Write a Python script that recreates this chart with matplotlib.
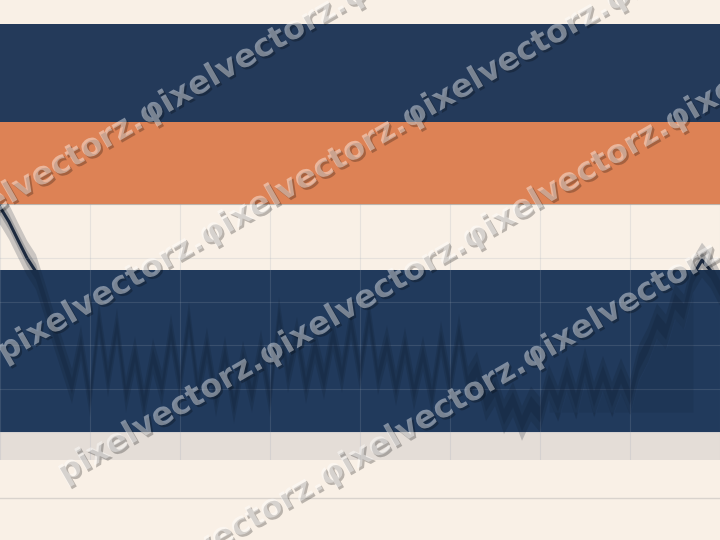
import numpy as np
import matplotlib.pyplot as plt
import matplotlib.patheffects as pe
from matplotlib.patches import Rectangle
from matplotlib.lines import Line2D

# data
days = list(range(0, 161, 2))
close = [151.7, 148.3, 144.1, 140.0, 136.8, 130.3, 123.4, 117.0, 110.5, 120.5,
         107.5, 126.0, 112.0, 124.5, 108.5, 118.0, 106.5, 117.5, 110.0, 123.0,
         111.0, 126.0, 109.5, 120.0, 107.5, 118.0, 106.0, 117.0, 108.5, 119.5,
         107.5, 127.0, 113.0, 122.5, 110.5, 120.0, 111.5, 122.5, 113.0, 125.5,
         113.5, 127.0, 112.5, 120.5, 110.0, 120.0, 109.0, 118.0, 108.0, 121.5,
         110.5, 123.0, 111.0, 114.5, 106.5, 110.0, 103.5, 107.5, 102.0, 106.5,
         104.0, 111.5, 106.5, 113.5, 107.0, 115.5, 107.5, 113.5, 107.5, 113.0,
         108.0, 116.0, 120.0, 125.5, 123.0, 130.0, 127.6, 136.0, 139.5, 137.0,
         133.0]
range_low, range_high = 100, 137.2
y_ticks = [100, 110, 120, 130, 140]
x_ticks = [0, 20, 40, 60, 80, 100, 120, 140, 160]
shade_from, shade_to, shade_floor = 122, 154, 104.6

cream = '#f9f0e6'
navy = '#243a5a'
orange = '#dd8255'

fig = plt.figure(figsize=(7.2, 5.4), dpi=100, facecolor=cream)
W, H = 720, 540

# header bars
fig.add_artist(Rectangle((0, 1 - 122 / H), 1, 98 / H, transform=fig.transFigure,
                         color=navy, lw=0))
fig.add_artist(Rectangle((0, 1 - 204 / H), 1, 82 / H, transform=fig.transFigure,
                         color=orange, lw=0))
fig.add_artist(Line2D([0, 1], [1 - 498 / H] * 2, transform=fig.transFigure,
                      color='#d9d3cd', lw=1))

ax = fig.add_axes([0, 80 / H, 1, 256 / H])
ax.set_facecolor(cream)
ax.set_xlim(0, 160)
ax.set_ylim(93.6, 152.4)
ax.set_xticks(x_ticks)
ax.set_yticks(y_ticks)
ax.tick_params(length=0, labelleft=False, labelbottom=False)
for s in ['left', 'right', 'bottom']:
    ax.spines[s].set_visible(False)
ax.spines['top'].set_color('#bdb5ad')
ax.spines['top'].set_linewidth(0.8)
ax.grid(True, color='#9aa5b5', alpha=0.2, lw=0.8, zorder=3)
ax.set_axisbelow(False)

x = np.array(days)
y = np.array(close)
ax.plot(x, y, color='#26344a', lw=2.2, zorder=1)
ax.axhspan(range_low, range_high, color='#213a5c', lw=0, zorder=2)
ax.axhspan(93.6, range_low, color='#e4ddd7', lw=0, zorder=2)
ax.fill_between(x, y - 4.0, y + 4.0, color='#0f1c2e', alpha=0.2, lw=0, zorder=4)
ax.fill_between(x, y - 1.8, y + 1.8, color='#0f1c2e', alpha=0.22, lw=0, zorder=4)
sel = (x >= shade_from) & (x <= shade_to)
ax.fill_between(x, shade_floor, y - 4.0, where=sel, color='#0f1c2e', alpha=0.12,
                lw=0, zorder=4)

# watermark, four diagonal rows
mark = "pixelvectorz." + "φixelvectorz." * 4
for k in range(1, 5):
    x0 = -120 + 60 * k
    y0 = 45 + 155 * k - np.tan(np.radians(30)) * x0
    fig.text(x0 / W, 1 - y0 / H, mark, rotation=30, rotation_mode='anchor',
             ha='left', va='center', fontsize=23, fontweight='bold',
             color='white', alpha=0.42, zorder=10,
             path_effects=[pe.SimplePatchShadow(offset=(1.5, -1.5), shadow_rgbFace='black', alpha=0.25),
                           pe.Normal()])

fig.savefig('out.png', dpi=100, facecolor=cream)
